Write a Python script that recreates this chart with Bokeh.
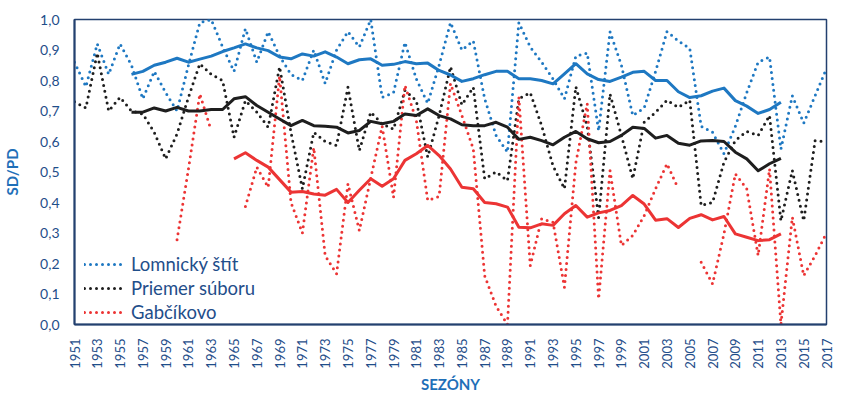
import math
import numpy as np
from bokeh.plotting import figure
from bokeh.models import Range1d, FixedTicker, CustomJSTickFormatter
from bokeh.embed import file_html
from bokeh.resources import INLINE

# ---------------- data ----------------
years = list(range(1951, 2018))
years_avg = list(range(1956, 2014))
years_avg_gab = list(range(1965, 2014))
x_tick_years = list(range(1951, 2018, 2))
y_ticks = [0.0, 0.1, 0.2, 0.3, 0.4, 0.5, 0.6, 0.7, 0.8, 0.9, 1.0]

lomnicky = [0.86, 0.78, 0.92, 0.82, 0.92, 0.85, 0.74, 0.83, 0.76, 0.70,
            0.85, 0.99, 1.00, 0.91, 0.83, 0.97, 0.86, 0.96, 0.88, 0.82,
            0.80, 0.90, 0.79, 0.90, 0.96, 0.91, 1.00, 0.745, 0.76, 0.925,
            0.805, 0.725, 0.85, 0.99, 0.90, 0.93, 0.74, 0.62, 0.565, 0.99,
            0.91, 0.86, 0.805, 0.74, 0.88, 0.89, 0.635, 0.96, 0.85, 0.685,
            0.71, 0.83, 0.96, 0.93, 0.905, 0.65, 0.63, 0.56, 0.65, 0.76,
            0.86, 0.877, 0.575, 0.75, 0.66, 0.75, 0.84]

priemer = [0.73, 0.71, 0.89, 0.70, 0.745, 0.70, 0.69, 0.63, 0.543, 0.625,
           0.745, 0.855, 0.82, 0.80, 0.614, 0.734, 0.696, 0.647, 0.845, 0.63,
           0.445, 0.63, 0.60, 0.587, 0.778, 0.57, 0.696, 0.658, 0.64, 0.767,
           0.734, 0.549, 0.685, 0.845, 0.72, 0.778, 0.478, 0.50, 0.472, 0.74,
           0.76, 0.652, 0.52, 0.445, 0.78, 0.65, 0.35, 0.756, 0.62, 0.478,
           0.663, 0.696, 0.735, 0.712, 0.735, 0.39, 0.40, 0.532, 0.603, 0.633,
           0.62, 0.685, 0.34, 0.505, 0.34, 0.603, 0.598]

gabcikovo = [None, None, None, None, None, None, None, None, None, 0.278,
             0.51, 0.756, 0.636, None, None, 0.387, 0.516, 0.45, 0.815, 0.40,
             0.30, 0.58, 0.226, 0.166, 0.461, 0.308, 0.48, 0.65, 0.417, 0.784,
             0.67, 0.407, 0.42, 0.79, 0.685, 0.576, 0.16, 0.06, 0.0, 0.745,
             0.193, 0.347, 0.335, 0.122, 0.53, 0.724, 0.084, 0.505, 0.259, 0.292,
             0.357, 0.445, 0.527, 0.445, None, 0.204, 0.133, 0.297, 0.494, 0.445,
             0.226, 0.51, 0.0, 0.352, 0.16, 0.226, 0.30]

lomnicky_avg = [0.82, 0.83, 0.85, 0.86, 0.873, 0.86, 0.87, 0.88, 0.895, 0.907,
                0.92, 0.907, 0.898, 0.877, 0.871, 0.887, 0.88, 0.894, 0.877, 0.855,
                0.868, 0.871, 0.85, 0.853, 0.862, 0.855, 0.857, 0.833, 0.818, 0.797,
                0.806, 0.819, 0.83, 0.83, 0.806, 0.806, 0.80, 0.789, 0.822, 0.855,
                0.822, 0.803, 0.797, 0.811, 0.827, 0.83, 0.80, 0.80, 0.763, 0.744,
                0.75, 0.765, 0.775, 0.734, 0.716, 0.692, 0.705, 0.729]

priemer_avg = [0.696, 0.696, 0.71, 0.70, 0.712, 0.70, 0.70, 0.705, 0.705, 0.74,
               0.747, 0.718, 0.696, 0.674, 0.652, 0.669, 0.652, 0.65, 0.647, 0.628,
               0.636, 0.666, 0.658, 0.666, 0.69, 0.685, 0.707, 0.685, 0.674, 0.655,
               0.652, 0.652, 0.663, 0.647, 0.607, 0.614, 0.603, 0.589, 0.614, 0.633,
               0.609, 0.596, 0.60, 0.62, 0.647, 0.643, 0.611, 0.62, 0.594, 0.588,
               0.602, 0.603, 0.60, 0.565, 0.543, 0.504, 0.527, 0.545]

gabcikovo_avg = [0.543, 0.563, 0.538, 0.516, 0.475, 0.434, 0.436, 0.428, 0.424, 0.443,
                 0.40, 0.44, 0.478, 0.453, 0.478, 0.538, 0.56, 0.587, 0.554, 0.51,
                 0.45, 0.445, 0.40, 0.396, 0.385, 0.319, 0.317, 0.33, 0.325, 0.363,
                 0.39, 0.352, 0.366, 0.374, 0.39, 0.423, 0.395, 0.342, 0.347, 0.318,
                 0.348, 0.36, 0.343, 0.354, 0.297, 0.286, 0.275, 0.278, 0.297]

labels = ["Lomnický štít", "Priemer súboru", "Gabčíkovo"]
x_title = "SEZÓNY"
y_title = "SD/PD"

# ---------------- styling ----------------
BLUE = "#1E78C2"
BLACK = "#1E1E1E"
RED = "#EC3434"
NAVY = "#1F4E8A"
TITLE_BLUE = "#1F6FB8"
AXIS_COL = "#23406F"
FONT = "Lato"

p = figure(width=841, height=397,
           x_range=Range1d(1951, 2017), y_range=Range1d(0, 1),
           output_backend="svg", toolbar_location=None,
           min_border_left=73, min_border_right=15,
           min_border_top=19, min_border_bottom=73)

p.background_fill_color = "white"
p.border_fill_color = "white"
p.grid.visible = False
p.outline_line_color = AXIS_COL
p.outline_line_width = 1.5

dot_kw = dict(line_width=3, line_dash="0 6", line_cap="round")

p.line(years, np.array(lomnicky, dtype=float), color=BLUE, legend_label=labels[0], **dot_kw)
p.line(years, np.array(priemer, dtype=float), color=BLACK, legend_label=labels[1], **dot_kw)
p.line(years, np.array(gabcikovo, dtype=float), color=RED, legend_label=labels[2], **dot_kw)

p.line(years_avg, lomnicky_avg, color=BLUE, line_width=3, line_join="round")
p.line(years_avg, priemer_avg, color=BLACK, line_width=3, line_join="round")
p.line(years_avg_gab, gabcikovo_avg, color=RED, line_width=3, line_join="round")

# x axis
xa = p.xaxis[0]
xa.ticker = FixedTicker(ticks=x_tick_years)
xa.major_label_orientation = math.pi / 2
xa.major_label_text_font = FONT
xa.major_label_text_font_size = "13px"
xa.major_label_text_color = NAVY
xa.major_label_standoff = 8
xa.major_tick_line_color = None
xa.minor_tick_line_color = None
xa.axis_line_color = AXIS_COL
xa.axis_line_width = 2
xa.axis_label = x_title
xa.axis_label_text_font = FONT
xa.axis_label_text_font_style = "bold"
xa.axis_label_text_font_size = "15px"
xa.axis_label_text_color = TITLE_BLUE
xa.axis_label_standoff = 3

# y axis
ya = p.yaxis[0]
ya.ticker = FixedTicker(ticks=y_ticks)
ya.formatter = CustomJSTickFormatter(code="return tick.toFixed(1).replace('.', ',');")
ya.major_label_text_font = FONT
ya.major_label_text_font_size = "14px"
ya.major_label_text_color = NAVY
ya.major_label_standoff = 9
ya.major_tick_line_color = None
ya.minor_tick_line_color = None
ya.axis_line_color = AXIS_COL
ya.axis_line_width = 2
ya.axis_label = y_title
ya.axis_label_text_font = FONT
ya.axis_label_text_font_style = "bold"
ya.axis_label_text_font_size = "15px"
ya.axis_label_text_color = TITLE_BLUE
ya.axis_label_standoff = 16

# legend
lg = p.legend[0]
lg.location = (10, 1)
lg.background_fill_alpha = 0
lg.border_line_color = None
lg.label_text_font = FONT
lg.label_text_font_size = "18.5px"
lg.label_text_color = NAVY
lg.glyph_width = 40
lg.label_standoff = 7
lg.spacing = 2
lg.padding = 5
lg.margin = 0

open("out.html", "w").write(file_html(p, INLINE))
